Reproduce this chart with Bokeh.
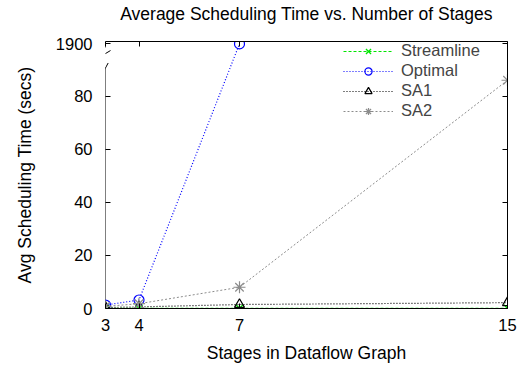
from bokeh.plotting import figure
from bokeh.models import FixedTicker, LinearAxis, Range1d, Legend, LegendItem
from bokeh.embed import file_html
from bokeh.resources import INLINE

# ---- data ----
stages = [3, 4, 7, 15]
streamline = [0.02, 0.03, 0.05, 0.1]
optimal_stages = [3, 4, 7]
optimal = [1.3, 3.2, 1900]
sa1 = [0.4, 0.6, 1.5, 2.2]
sa2 = [0.8, 1.8, 8.0, 86.0]

series_names = ["Streamline", "Optimal", "SA1", "SA2"]
x_ticks = [3, 4, 7, 15]
y_ticks = [0, 20, 40, 60, 80]
y_break_label = 1900
title_text = "Average Scheduling Time vs. Number of Stages"

# broken y-axis: values above the break are drawn in a compressed band at top
BREAK_POS = 99.7
Y_TOP = 100.6


def ymap(v):
    return v if v < 100 else BREAK_POS + (v - y_break_label) / 1000.0


FONT = "Liberation Sans"
FS = "17.5px"
TFS = "16.5px"
LFS = "16.5px"

p = figure(width=526, height=365, output_backend="svg", toolbar_location=None,
           x_range=Range1d(3, 15), y_range=Range1d(0, Y_TOP),
           min_border_left=105, min_border_right=19, min_border_top=41,
           min_border_bottom=56, outline_line_color=None)
p.xgrid.visible = False
p.ygrid.visible = False

yt = y_ticks + [BREAK_POS]
overrides = {BREAK_POS: str(y_break_label)}


def style_axis(ax, show_labels=True):
    ax.major_tick_in = 5
    ax.major_tick_out = 0
    ax.minor_tick_line_color = None
    ax.major_tick_line_color = "black"
    ax.axis_line_color = "black"
    ax.major_label_text_font = FONT
    ax.major_label_text_font_size = TFS if show_labels else "1px"
    ax.major_label_text_color = "black" if show_labels else None
    ax.axis_label_text_font = FONT
    ax.axis_label_text_font_size = FS
    ax.axis_label_text_font_style = "normal"
    ax.axis_label_text_color = "black"
    if not show_labels:
        ax.major_label_standoff = 0


xa = p.xaxis[0]
xa.ticker = FixedTicker(ticks=x_ticks)
style_axis(xa)
xa.major_label_standoff = 10
xa.axis_label = "Stages in Dataflow Graph"
xa.axis_label_standoff = 9

ya = p.yaxis[0]
ya.ticker = FixedTicker(ticks=yt)
ya.major_label_overrides = overrides
style_axis(ya)
ya.axis_line_color = None
ya.major_label_standoff = 13
ya.axis_label = "Avg Scheduling Time (secs)"
ya.axis_label_standoff = 18

ra = LinearAxis(ticker=FixedTicker(ticks=yt))
style_axis(ra, show_labels=False)
p.add_layout(ra, "right")

# top border with mirrored ticks; its label carries the chart title
ta = LinearAxis(ticker=FixedTicker(ticks=x_ticks))
style_axis(ta, show_labels=False)
ta.axis_label = title_text
ta.axis_label_standoff = 18
p.add_layout(ta, "above")

# left border with break marks
p.segment(x0=[3, 2.95, 2.86, 3], y0=[0, 89.5, 95.0, 98.3],
          x1=[3, 3.08, 3.15, 3], y1=[91.0, 92.5, 97.2, Y_TOP],
          line_color="black", line_width=1)

# ---- series ----
GREEN = "#00e600"
BLUE = "#0000ff"
GRAY = "#8c8c8c"

r1l = p.line(stages, [ymap(v) for v in streamline], line_color=GREEN, line_dash="3 2", line_width=1.2)
r1m = p.scatter(stages, [ymap(v) for v in streamline], marker="x", size=10, line_color=GREEN, line_width=1.3)

r2l = p.line(optimal_stages, [ymap(v) for v in optimal], line_color=BLUE, line_dash="1 2", line_width=1.2)
r2m = p.scatter(optimal_stages, [ymap(v) for v in optimal], marker="circle", size=10, line_color=BLUE,
                fill_color=None, line_width=1.2)

r3l = p.line(stages, [ymap(v) for v in sa1], line_color="black", line_dash="1 2", line_width=1.2)
r3m = p.scatter(stages, [ymap(v) for v in sa1], marker="triangle", size=10, line_color="black",
                fill_color=None, line_width=1.2)

r4l = p.line(stages, [ymap(v) for v in sa2], line_color=GRAY, line_dash="2 2", line_width=1)
r4m = p.scatter(stages, [ymap(v) for v in sa2], marker="asterisk", size=12, line_color=GRAY, line_width=1.2)

# one legend per row so the rows can sit at the reference spacing
row_renderers = [[r1l, r1m], [r2l, r2m], [r3l, r3m], [r4l, r4m]]
row_y = [248, 228, 208, 188]
for name, rends, ly in zip(series_names, row_renderers, row_y):
    lg = Legend(items=[LegendItem(label=name, renderers=rends)],
                location=(238, ly), orientation="vertical",
                background_fill_alpha=0, border_line_color=None,
                label_text_font=FONT, label_text_font_size=LFS,
                glyph_width=50, glyph_height=18, label_height=18, spacing=0,
                padding=0, margin=0, label_standoff=8)
    p.add_layout(lg)

open("out.html", "w").write(file_html(p, INLINE))
